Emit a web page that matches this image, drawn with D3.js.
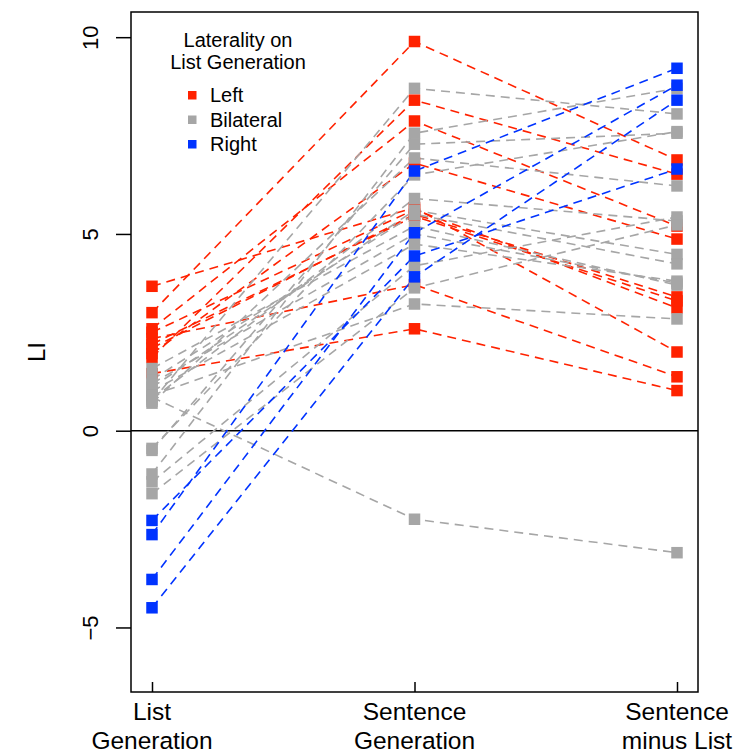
<!DOCTYPE html>
<html><head><meta charset="utf-8">
<script src="https://cdn.jsdelivr.net/npm/d3@7"></script>
<style>body{margin:0;background:#fff}svg{display:block}text{font-family:"Liberation Sans",Arial,sans-serif;fill:#000}</style>
</head><body><svg id="c" width="737" height="754"></svg>
<script>
const conditions = ["List\nGeneration", "Sentence\nGeneration", "Sentence\nminus List"];
const yTicks = [-5, 0, 5, 10];
const groups = ["Left", "Bilateral", "Right"];
const groupColors = ["#ff2200", "#a6a6a6", "#0033ff"];
// Per-subject values: [List Generation, Sentence Generation, Sentence minus List]
const bilateral = [
  [0.75, 8.7, 8.05], [-1.1, 7.56, 8.7], [-0.5, 7.28, 7.56], [0.7, 6.93, 6.22],
  [-1.3, 4.19, 5.43], [0.8, 5.9, 5.33], [1.1, 5.6, 4.48], [1.3, 5.5, 4.24],
  [1.0, 4.74, 3.8], [1.58, 5.2, 3.7], [0.9, 3.22, 2.84], [0.85, -2.25, -3.1],
  [-1.6, 3.63, 5.23], [1.2, 5.0, 3.75], [-0.45, 6.5, 7.6]
];
const left = [
  [3.0, 9.89, 6.88], [1.86, 8.4, 6.52], [2.59, 7.87, 5.2], [1.45, 2.59, 1.02],
  [1.96, 6.8, 4.87], [2.34, 3.71, 1.37], [3.67, 5.67, 2.0], [2.1, 5.5, 3.4],
  [2.5, 5.62, 3.12], [2.2, 5.45, 3.3]
];
const right = [
  [-2.64, 6.6, 9.21], [-3.78, 5.03, 8.78], [-4.5, 3.91, 8.4], [-2.28, 4.44, 6.65]
];
const legendTitle = ["Laterality on", "List Generation"];

const svg = d3.select("#c");
const x = d3.scaleLinear().domain([0.92, 3.08]).range([131, 698]);
const y = d3.scaleLinear().domain([-6.64, 10.64]).range([692, 12]);

const sets = [
  {data: left, color: groupColors[0]},
  {data: bilateral, color: groupColors[1]},
  {data: right, color: groupColors[2]}
];
const line = d3.line().x((d, i) => x(i + 1)).y(d => y(d));
svg.append("line").attr("x1", 131).attr("x2", 698).attr("y1", y(0)).attr("y2", y(0))
  .attr("stroke", "#000").attr("stroke-width", 1.4);
sets.forEach(s => {
  svg.append("g").selectAll("path").data(s.data).join("path")
    .attr("d", line).attr("fill", "none").attr("stroke", s.color)
    .attr("stroke-width", 1.6).attr("stroke-dasharray", "9,6");
});
const sq = 11.5;
sets.forEach(s => {
  const pts = s.data.flatMap(r => r.map((v, i) => ({i, v})));
  svg.append("g").selectAll("rect").data(pts).join("rect")
    .attr("x", d => x(d.i + 1) - sq / 2).attr("y", d => y(d.v) - sq / 2)
    .attr("width", sq).attr("height", sq).attr("fill", s.color);
});
svg.append("rect").attr("x", 131).attr("y", 12).attr("width", 567).attr("height", 680)
  .attr("fill", "none").attr("stroke", "#000").attr("stroke-width", 1.5);
const ya = svg.append("g").attr("transform", "translate(131,0)")
  .call(d3.axisLeft(y).tickValues(yTicks).tickSize(15).tickFormat(d3.format("d")));
ya.select(".domain").remove();
ya.selectAll(".tick line").attr("stroke", "#000").attr("stroke-width", 1.5);
ya.selectAll(".tick text").attr("font-size", 22).attr("x", 0).attr("dy", 0)
  .attr("text-anchor", "middle")
  .attr("transform", "translate(-33,0) rotate(-90)").attr("fill", "#000")
  .attr("font-family", "Liberation Sans, Arial, sans-serif");
const xa = svg.append("g").attr("transform", "translate(0,692)")
  .call(d3.axisBottom(x).tickValues([1, 2, 3]).tickSize(-10).tickFormat(""));
xa.select(".domain").remove();
xa.selectAll(".tick line").attr("stroke", "#000").attr("stroke-width", 1.5);
conditions.forEach((c, i) => {
  c.split("\n").forEach((t, j) => {
    svg.append("text").attr("x", x(i + 1)).attr("y", 720 + j * 29)
      .attr("text-anchor", "middle").attr("font-size", 24.5).text(t);
  });
});
svg.append("text").attr("transform", "translate(45,352) rotate(-90)")
  .attr("text-anchor", "middle").attr("font-size", 24).text("LI");
legendTitle.forEach((t, j) => {
  svg.append("text").attr("x", 238).attr("y", 47 + j * 22)
    .attr("text-anchor", "middle").attr("font-size", 20).text(t);
});
groups.forEach((g, j) => {
  svg.append("rect").attr("x", 188).attr("y", 91 + j * 24.5).attr("width", 8.5).attr("height", 8.5)
    .attr("fill", groupColors[j]);
  svg.append("text").attr("x", 210).attr("y", 102 + j * 24.5).attr("font-size", 20).text(g);
});
</script></body></html>
